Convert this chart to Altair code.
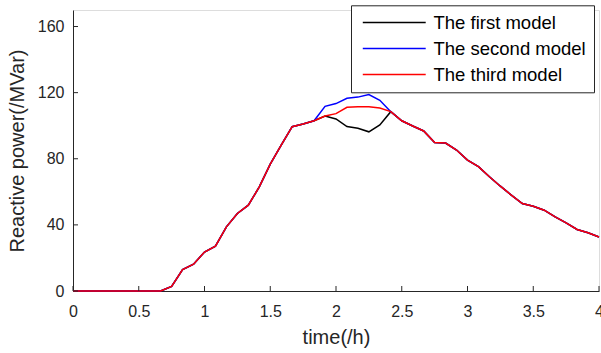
import altair as alt
import pandas as pd

time_h = [k / 12 for k in range(49)]

first_model = [0, 0, 0, 0, 0, 0, 0, 0, 0, 2.8, 12.9, 16.2, 23.6, 27.1, 38.8, 46.9,
               51.9, 63.0, 76.8, 88.3, 99.4, 101.0, 103.0, 105.9, 104.1, 99.5, 98.5,
               96.3, 100.5, 108.5, 103.0, 99.8, 96.8, 89.9, 89.5, 85.3, 79.2, 75.2,
               69.1, 63.4, 58.0, 52.9, 51.3, 48.9, 44.8, 41.2, 37.2, 35.2, 32.7]
second_model = [0, 0, 0, 0, 0, 0, 0, 0, 0, 2.8, 12.9, 16.2, 23.6, 27.1, 38.8, 46.9,
                51.9, 63.0, 76.8, 88.3, 99.4, 101.0, 103.0, 111.7, 113.4, 116.6, 117.3,
                118.8, 115.4, 108.5, 103.0, 99.8, 96.8, 89.9, 89.5, 85.3, 79.2, 75.2,
                69.1, 63.4, 58.0, 52.9, 51.3, 48.9, 44.8, 41.2, 37.2, 35.2, 32.7]
third_model = [0, 0, 0, 0, 0, 0, 0, 0, 0, 2.8, 12.9, 16.2, 23.6, 27.1, 38.8, 46.9,
               51.9, 63.0, 76.8, 88.3, 99.4, 101.0, 103.0, 105.9, 107.3, 111.1, 111.5,
               111.5, 110.7, 108.5, 103.0, 99.8, 96.8, 89.9, 89.5, 85.3, 79.2, 75.2,
               69.1, 63.4, 58.0, 52.9, 51.3, 48.9, 44.8, 41.2, 37.2, 35.2, 32.7]

series_names = ["The first model", "The second model", "The third model"]
series_colors = ["#000000", "#0000FF", "#FF0000"]
x_ticks = [0, 0.5, 1, 1.5, 2, 2.5, 3, 3.5, 4]
y_ticks = [0, 40, 80, 120, 160]

rows = []
for name, vals in zip(series_names, [first_model, second_model, third_model]):
    for i, (t, v) in enumerate(zip(time_h, vals)):
        rows.append({"time": t, "power": v, "model": name, "order": i})
df = pd.DataFrame(rows)

W, H = 526, 281
FONT = "Liberation Sans"

xscale = alt.Scale(domain=[0, 4], nice=False, zero=False)
yscale = alt.Scale(domain=[0, 170], nice=False)

xaxis = alt.Axis(values=x_ticks, format="~f", tickSize=0, labelFontSize=16, labelPadding=12,
                 labelColor="#262626", domainColor="#262626", grid=False, labelFlush=False,
                 titleFontSize=20, titleFontWeight="normal", titleColor="#262626",
                 titlePadding=8, labelFont=FONT, titleFont=FONT)
yaxis = alt.Axis(values=y_ticks, format="d", tickSize=0, labelFontSize=16, labelPadding=9,
                 labelColor="#262626", domainColor="#262626", grid=False, labelFlush=False,
                 titleFontSize=20, titleFontWeight="normal", titleColor="#262626",
                 titlePadding=10, labelFont=FONT, titleFont=FONT)

lines = alt.Chart(df).mark_line(strokeWidth=1.5).encode(
    x=alt.X("time:Q", scale=xscale, axis=xaxis, title="time(/h)"),
    y=alt.Y("power:Q", scale=yscale, axis=yaxis, title="Reactive power(/MVar)"),
    color=alt.Color("model:N",
                    scale=alt.Scale(domain=series_names, range=series_colors),
                    sort=series_names,
                    legend=alt.Legend(title=None, orient="none", legendX=278, legendY=-4.7,
                                      strokeColor="#262626", fillColor="white",
                                      padding=8, symbolType="M-6,0H6", symbolSize=110,
                                      symbolStrokeWidth=1.5, symbolOffset=26,
                                      labelOffset=30, labelFontSize=18.5,
                                      labelFont=FONT, labelColor="#000000",
                                      rowPadding=7, cornerRadius=0)),
    order="order:Q",
    detail="model:N",
)

xt = alt.Chart(pd.DataFrame({"v": x_ticks})).mark_rule(color="#262626", strokeWidth=1).encode(
    x=alt.X("v:Q", scale=xscale), y=alt.value(H), y2=alt.value(H - 5))
yt = alt.Chart(pd.DataFrame({"v": y_ticks})).mark_rule(color="#262626", strokeWidth=1).encode(
    y=alt.Y("v:Q", scale=yscale), x=alt.value(0), x2=alt.value(5))

chart = alt.layer(lines, xt, yt).properties(
    width=W, height=H,
    autosize=alt.AutoSizeParams(type="none"),
    padding={"left": 73, "top": 10, "right": 2, "bottom": 62},
).configure_view(stroke=None).configure(background="white")

chart.save("out.html", embed_options={"renderer": "svg", "actions": False})
